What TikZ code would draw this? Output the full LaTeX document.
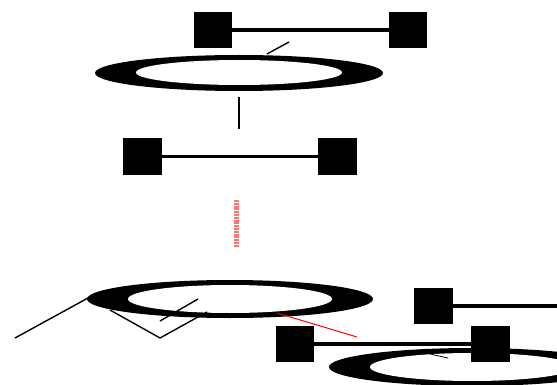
\documentclass[tikz,border=0pt]{standalone}
\usetikzlibrary{shapes.geometric}
\begin{document}
\begin{tikzpicture}[x=1pt,y=-1pt,
  sq/.style={draw=none,fill=black,minimum width=38pt,minimum height=36pt,inner sep=0pt,outer sep=0pt},
  ringout/.style={ellipse,fill=black,draw=none,inner sep=0pt,outer sep=0pt},
  ringin/.style={ellipse,fill=white,draw=none,inner sep=0pt,outer sep=0pt},
  link/.style={line width=3.2pt,black},
  thin/.style={line width=1.4pt,black},
  stem/.style={line width=2pt,black},
  reddash/.style={line width=5pt,red!55,dash pattern=on 2pt off 0.8pt},
  redline/.style={line width=1pt,red}]
\useasboundingbox (0,0) rectangle (557,385);
% top group
\node[ringout,minimum width=288pt,minimum height=36pt] (e1o) at (239,73) {};
\node[ringin,minimum width=206pt,minimum height=25pt] (e1i) at (239,72.5) {};
\node[sq] (s1a) at (213,30) {};
\node[sq] (s1b) at (408,30) {};
\draw[link] (s1a) -- (s1b);
\coordinate (t1a) at (267,54);
\coordinate (t1b) at (289,42);
\draw[thin] (t1a) -- (t1b);
\coordinate (v1a) at (239,97);
\coordinate (v1b) at (239,129);
\draw[stem] (v1a) -- (v1b);
% middle squares
\node[sq,minimum width=39pt,minimum height=37pt] (s2a) at (142,156.5) {};
\node[sq,minimum width=39pt,minimum height=37pt] (s2b) at (337.5,156.5) {};
\draw[link] (s2a) -- (s2b);
\coordinate (r1a) at (236,200);
\coordinate (r1b) at (236,247);
\draw[reddash] (r1a) -- (r1b);
% bottom ellipse
\node[ringout,minimum width=286pt,minimum height=38pt] (e2o) at (230,299) {};
\node[ringin,minimum width=204pt,minimum height=28pt] (e2i) at (230,299) {};
\coordinate (l1a) at (88,298);
\coordinate (l1b) at (15,338);
\draw[thin] (l1a) -- (l1b);
\coordinate (va) at (110,310);
\coordinate (vb) at (160,338);
\coordinate (vc) at (207,312);
\draw[thin] (va) -- (vb) -- (vc);
\coordinate (tka) at (160,321);
\coordinate (tkb) at (198,299);
\draw[thin] (tka) -- (tkb);
\coordinate (rla) at (277,313);
\coordinate (rlb) at (357,337);
\draw[redline] (rla) -- (rlb);
% bottom right group
\node[ringout,minimum width=286pt,minimum height=38pt] (e3o) at (472,367) {};
\node[ringin,minimum width=204pt,minimum height=28pt] (e3i) at (472,367) {};
\node[sq,minimum width=39pt] (sA) at (433.5,306) {};
\coordinate (edgeA) at (557,306);
\draw[link] (sA) -- (edgeA);
\node[sq] (sB) at (295,344) {};
\node[sq,minimum width=39pt] (sC) at (490.5,344) {};
\draw[link] (sB) -- (sC);
\coordinate (t3a) at (430,354);
\coordinate (t3b) at (448,358);
\draw[line width=0.8pt] (t3a) -- (t3b);
\end{tikzpicture}
\end{document}
